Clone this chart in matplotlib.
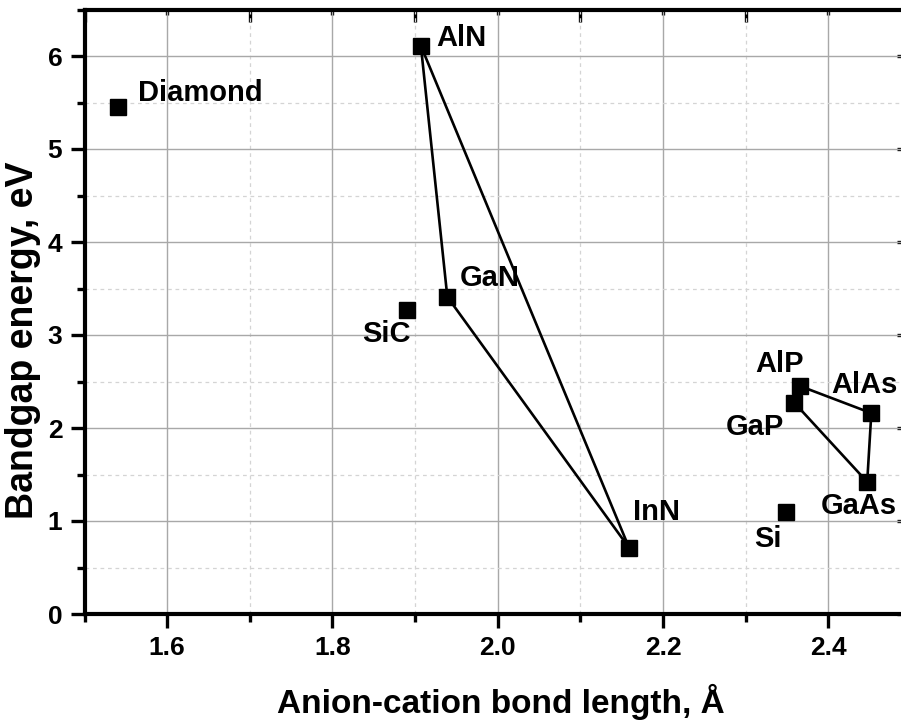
import matplotlib
matplotlib.use("Agg")
import matplotlib.pyplot as plt
from matplotlib.ticker import MultipleLocator, FormatStrFormatter

plt.rcParams['font.family'] = ['Liberation Sans', 'DejaVu Sans']
plt.rcParams['font.weight'] = 'bold'

# Semiconductor data: bond length (Å) and bandgap (eV)
materials = ["Diamond", "AlN", "GaN", "SiC", "InN", "Si", "AlP", "GaP", "AlAs", "GaAs"]
bond_length = [1.54, 1.907, 1.939, 1.890, 2.159, 2.349, 2.366, 2.359, 2.452, 2.447]
bandgap = [5.45, 6.11, 3.41, 3.27, 0.71, 1.10, 2.45, 2.27, 2.16, 1.42]

# Alloy systems drawn as closed polygons
nitride_loop = ["AlN", "GaN", "InN", "AlN"]
phosphide_arsenide_loop = ["AlP", "AlAs", "GaAs", "GaP", "AlP"]

# Label placement: offset in pixels (dx, dy up) and horizontal alignment
label_style = {
    "Diamond": (20, 14, "left"),
    "AlN": (15, 8, "left"),
    "GaN": (12, 19, "left"),
    "SiC": (4, -24, "right"),
    "InN": (4, 36, "left"),
    "Si": (-5, -27, "right"),
    "AlP": (4, 22, "right"),
    "GaP": (-10, -24, "right"),
    "AlAs": (-7, 28, "center"),
    "GaAs": (-8, -24, "center"),
}

W, H = 901, 720
fig = plt.figure(figsize=(W / 100, H / 100), dpi=100)
left, right, top, bottom = 84.5, 911, 9.5, 614
ax = fig.add_axes([left / W, 1 - bottom / H, (right - left) / W, (bottom - top) / H])

ax.set_xlim(1.5, 2.5)
ax.set_ylim(0, 6.5)

ax.xaxis.set_major_locator(MultipleLocator(0.2))
ax.xaxis.set_minor_locator(MultipleLocator(0.1))
ax.yaxis.set_major_locator(MultipleLocator(1))
ax.yaxis.set_minor_locator(MultipleLocator(0.5))
ax.xaxis.set_major_formatter(FormatStrFormatter('%.1f'))

ax.grid(which='major', color='#a8a8a8', linewidth=1.0, linestyle='-')
ax.grid(which='minor', color='#d4d4d4', linewidth=0.9, linestyle=(0, (3, 3)))
ax.set_axisbelow(True)

for s in ax.spines.values():
    s.set_linewidth(3.0)

ax.tick_params(which='major', direction='out', length=10, width=2.4,
               labelsize=19, pad=6)
ax.tick_params(which='minor', direction='out', length=5.5, width=2.4)
for lab in ax.get_xticklabels() + ax.get_yticklabels():
    lab.set_fontweight('bold')

# Top and right axes with inward ticks
secx = ax.secondary_xaxis('top')
secx.xaxis.set_major_locator(MultipleLocator(0.2))
secx.xaxis.set_minor_locator(MultipleLocator(0.1))
secx.tick_params(which='major', direction='in', length=4.5, width=2.4, labeltop=False)
secx.tick_params(which='minor', direction='in', length=9.5, width=2.4)
secx.spines['top'].set_visible(False)

secy = ax.secondary_yaxis('right')
secy.yaxis.set_major_locator(MultipleLocator(1))
secy.yaxis.set_minor_locator(MultipleLocator(0.5))
secy.tick_params(which='major', direction='in', length=10, width=2.4, labelright=False)
secy.tick_params(which='minor', direction='in', length=5, width=2.4)
secy.spines['right'].set_visible(False)

idx = {m: i for i, m in enumerate(materials)}
for loop in (nitride_loop, phosphide_arsenide_loop):
    xs = [bond_length[idx[m]] for m in loop]
    ys = [bandgap[idx[m]] for m in loop]
    ax.plot(xs, ys, color='black', linewidth=1.9, zorder=3, solid_joinstyle='miter')

ax.plot(bond_length, bandgap, linestyle='none', marker='s', markersize=12,
        color='black', zorder=4, clip_on=False)

for m, x, y in zip(materials, bond_length, bandgap):
    dx, dy, ha = label_style[m]
    ax.annotate(m, (x, y), xytext=(dx * 0.72, dy * 0.72), textcoords='offset points',
                ha=ha, va='center', fontsize=21, fontweight='bold', zorder=5)

fig.text(501 / W, 1 - 713 / H, "Anion-cation bond length, Å", ha='center', va='baseline',
         fontsize=24, fontweight='bold')
fig.text(33 / W, 1 - 340 / H, "Bandgap energy, eV", ha='center', va='baseline',
         rotation=90, rotation_mode='anchor', fontsize=27, fontweight='bold')

fig.savefig("out.png", dpi=100, facecolor='white')
